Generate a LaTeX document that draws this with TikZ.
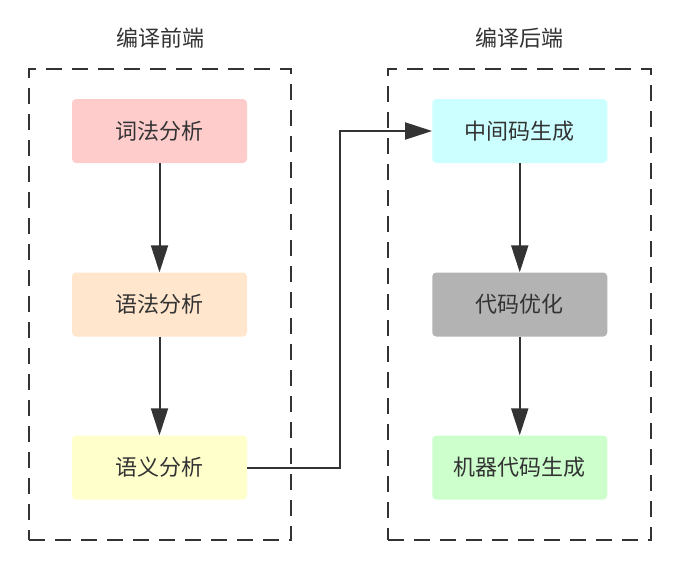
\documentclass[tikz,border=0pt]{standalone}
\usepackage{fontspec}
\setmainfont{Noto Sans CJK SC}
\usetikzlibrary{arrows.meta}
\definecolor{ink}{HTML}{333333}
\definecolor{cpink}{HTML}{FFCCCC}
\definecolor{cpeach}{HTML}{FFE6CC}
\definecolor{cyel}{HTML}{FFFFCC}
\definecolor{ccyan}{HTML}{CCFFFF}
\definecolor{cgray}{HTML}{B3B3B3}
\definecolor{cgreen}{HTML}{CCFFCC}
\tikzset{
  stagebox/.style={rectangle, rounded corners=4pt, minimum width=175pt, minimum height=64pt, inner sep=0pt, text=ink, font=\fontsize{22}{26}\selectfont},
  groupbox/.style={rectangle, draw=ink, line width=2pt, dash pattern=on 16pt off 10pt, inner sep=0pt},
  titletext/.style={text=ink, font=\fontsize{22}{26}\selectfont, inner sep=0pt},
  arr/.style={draw=ink, line width=2pt, -{Triangle[length=27pt,width=17pt]}}
}
\begin{document}
\begin{tikzpicture}[x=1pt,y=-1pt]
\useasboundingbox[fill=white] (0,0) rectangle (684,579);
\node[groupbox, minimum width=262pt, minimum height=471pt] (g1) at (160,304.5) {};
\node[groupbox, minimum width=263pt, minimum height=471pt] (g2) at (519.5,304.5) {};
\node[titletext] (t1) at (160,38) {编译前端};
\node[titletext] (t2) at (519.5,38) {编译后端};
\node[stagebox, fill=cpink] (a1) at (159.5,131) {词法分析};
\node[stagebox, fill=cpeach] (a2) at (159.5,304.5) {语法分析};
\node[stagebox, fill=cyel] (a3) at (159.5,467.5) {语义分析};
\node[stagebox, fill=ccyan] (b1) at (519.75,131) {中间码生成};
\node[stagebox, fill=cgray] (b2) at (519.75,304.5) {代码优化};
\node[stagebox, fill=cgreen] (b3) at (519.75,467.5) {机器代码生成};
\draw[arr] (a1) -- (a2);
\draw[arr] (a2) -- (a3);
\draw[arr] (b1) -- (b2);
\draw[arr] (b2) -- (b3);
\draw[arr] (a3.east) -- ++(93,0) |- (b1.west);
\end{tikzpicture}
\end{document}
